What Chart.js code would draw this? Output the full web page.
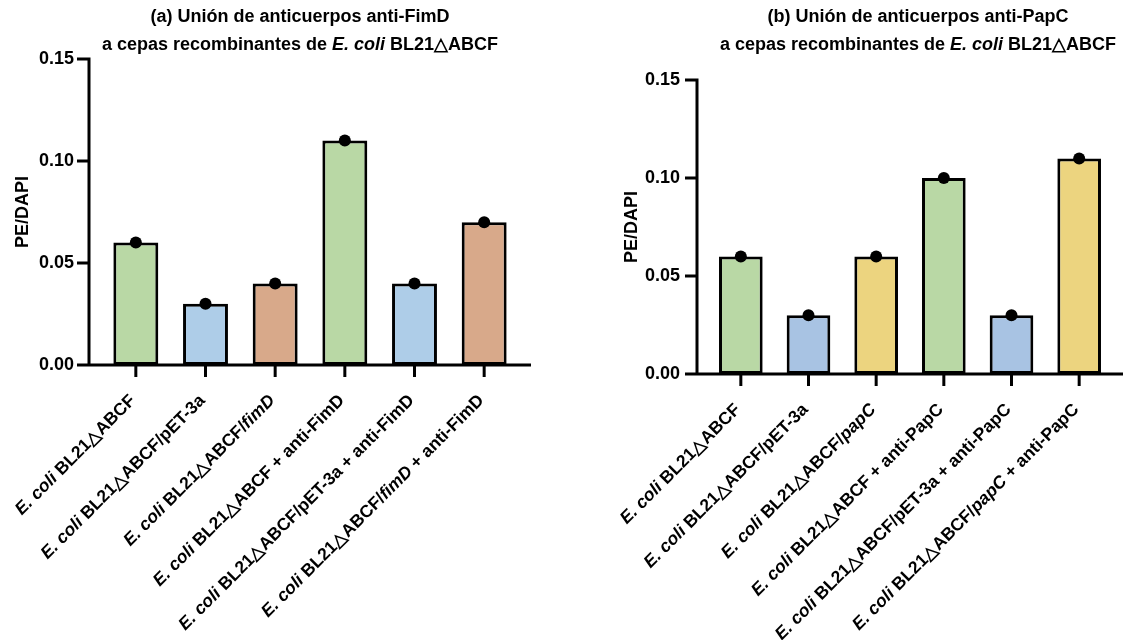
<!DOCTYPE html>
<html>
<head>
<meta charset="utf-8">
<script src="https://cdn.jsdelivr.net/npm/chart.js@4.4.1/dist/chart.umd.min.js"></script>
<style>
  html, body { margin: 0; padding: 0; background: #fff; }
  #wrap { position: relative; width: 1124px; height: 640px; }
  .panel { position: absolute; top: 0; height: 640px; }
</style>
</head>
<body>
<div id="wrap">
  <div class="panel" style="left:0;width:560px"><canvas id="graficoA" width="560" height="640"></canvas></div>
  <div class="panel" style="left:560px;width:564px"><canvas id="graficoB" width="564" height="640"></canvas></div>
</div>
<script>
// Datos (los * marcan texto en cursiva)
const tituloA = ['(a) Unión de anticuerpos anti-FimD', 'a cepas recombinantes de *E. coli* BL21△ABCF'];
const categoriasA = [
  '*E. coli* BL21△ABCF',
  '*E. coli* BL21△ABCF/pET-3a',
  '*E. coli* BL21△ABCF/*fimD*',
  '*E. coli* BL21△ABCF + anti-FimD',
  '*E. coli* BL21△ABCF/pET-3a + anti-FimD',
  '*E. coli* BL21△ABCF/*fimD* + anti-FimD'
];
const valoresA = [0.06, 0.03, 0.04, 0.11, 0.04, 0.07];

const tituloB = ['(b) Unión de anticuerpos anti-PapC', 'a cepas recombinantes de *E. coli* BL21△ABCF'];
const categoriasB = [
  '*E. coli* BL21△ABCF',
  '*E. coli* BL21△ABCF/pET-3a',
  '*E. coli* BL21△ABCF/*papC*',
  '*E. coli* BL21△ABCF + anti-PapC',
  '*E. coli* BL21△ABCF/pET-3a + anti-PapC',
  '*E. coli* BL21△ABCF/*papC* + anti-PapC'
];
const valoresB = [0.06, 0.03, 0.06, 0.10, 0.03, 0.11];

const ticksY = [0, 0.05, 0.10, 0.15];
const tituloY = 'PE/DAPI';

const coloresA = ['#b9d8a5', '#aecde8', '#d8a98a', '#b9d8a5', '#aecde8', '#d8a98a'];
const coloresB = ['#b9d8a5', '#a8c3e3', '#ecd47f', '#b9d8a5', '#a8c3e3', '#ecd47f'];

const FAMILIA = '"Liberation Sans", Arial, Helvetica, sans-serif';

function fuente(size, italic) {
  return (italic ? 'italic ' : '') + 'bold ' + size + 'px ' + FAMILIA;
}

function trozos(texto) {
  return texto.split('*').map((s, i) => ({ s, italic: i % 2 === 1 })).filter(p => p.s);
}

// dibuja texto con partes en cursiva; align: 'left' | 'center' | 'right'
function textoMixto(ctx, texto, x, y, size, align) {
  const partes = trozos(texto);
  let total = 0;
  partes.forEach(p => { ctx.font = fuente(size, p.italic); p.w = ctx.measureText(p.s).width; total += p.w; });
  let cx = align === 'center' ? x - total / 2 : align === 'right' ? x - total : x;
  ctx.textAlign = 'left';
  ctx.textBaseline = 'middle';
  partes.forEach(p => { ctx.font = fuente(size, p.italic); ctx.fillText(p.s, cx, y); cx += p.w; });
}

function crearGrafico(id, categorias, valores, colores, titulo, cfg) {
  const ejes = {
    id: 'ejes',
    beforeDatasetsDraw(chart) {
      const { ctx, chartArea: a, scales: { x, y } } = chart;
      const ax = a.left - cfg.gap;
      const tl = 12;
      const yTop = y.getPixelForValue(ticksY[ticksY.length - 1]);
      ctx.save();
      ctx.strokeStyle = '#000';
      ctx.lineWidth = 3;
      ctx.lineJoin = 'miter';
      ctx.beginPath();
      ctx.moveTo(ax - tl, yTop);
      ctx.lineTo(ax, yTop);
      ctx.lineTo(ax, a.bottom);
      ticksY.slice(0, -1).forEach(v => {
        const py = y.getPixelForValue(v);
        ctx.moveTo(ax - tl, py);
        ctx.lineTo(ax, py);
      });
      ctx.moveTo(ax - tl, a.bottom);
      ctx.lineTo(a.right + cfg.gap, a.bottom);
      categorias.forEach((c, i) => {
        const px = x.getPixelForValue(i);
        ctx.moveTo(px, a.bottom);
        ctx.lineTo(px, a.bottom + tl);
      });
      ctx.stroke();
      ctx.restore();
    },
    afterDraw(chart) {
      const { ctx, chartArea: a, scales: { x } } = chart;
      ctx.save();
      ctx.fillStyle = '#000';
      categorias.forEach((c, i) => {
        const px = x.getPixelForValue(i);
        ctx.save();
        ctx.translate(px - 3, a.bottom + 33);
        ctx.rotate(-Math.PI / 4);
        textoMixto(ctx, c, 0, 0, 17.5, 'right');
        ctx.restore();
      });
      textoMixto(ctx, titulo[0], cfg.tituloX, 17, 18, 'center');
      textoMixto(ctx, titulo[1], cfg.tituloX, 45, 18, 'center');
      ctx.restore();
    }
  };

  new Chart(document.getElementById(id), {
    data: {
      labels: categorias,
      datasets: [
        {
          type: 'line',
          data: valores,
          showLine: false,
          pointRadius: 6,
          pointHoverRadius: 6,
          pointBackgroundColor: '#000',
          pointBorderWidth: 0,
          order: 0
        },
        {
          type: 'bar',
          data: valores,
          backgroundColor: colores,
          borderColor: '#000',
          borderWidth: 3,
          borderSkipped: false,
          categoryPercentage: 1,
          barPercentage: 0.645,
          order: 1
        }
      ]
    },
    options: {
      responsive: false,
      animation: false,
      layout: { padding: { left: 0, top: cfg.top, right: cfg.right, bottom: 640 - cfg.bottom } },
      plugins: { legend: { display: false }, tooltip: { enabled: false } },
      scales: {
        x: {
          type: 'category',
          offset: true,
          grid: { display: false, drawTicks: false },
          border: { display: false },
          ticks: { display: false },
          afterFit: s => { s.height = 0; }
        },
        y: {
          min: 0,
          max: 0.15,
          grid: { display: false, drawTicks: false },
          border: { display: false },
          afterBuildTicks: s => { s.ticks = ticksY.map(v => ({ value: v })); },
          afterFit: s => { s.width = cfg.left; },
          ticks: {
            padding: 27,
            color: '#000',
            font: { family: FAMILIA, size: 18, weight: 'bold' },
            callback: v => v.toFixed(2)
          },
          title: {
            display: true,
            text: tituloY,
            color: '#000',
            padding: cfg.tituloYPad,
            font: { family: FAMILIA, size: 18, weight: 'bold' }
          }
        }
      }
    },
    plugins: [ejes]
  });
}

crearGrafico('graficoA', categoriasA, valoresA, coloresA, tituloA,
  { left: 101, right: 41, top: 59, bottom: 365, gap: 12, tituloX: 300, tituloYPad: 12 });
crearGrafico('graficoB', categoriasB, valoresB, coloresB, tituloB,
  { left: 147, right: 11, top: 80, bottom: 374, gap: 10, tituloX: 358, tituloYPad: 61 });
</script>
</body>
</html>
